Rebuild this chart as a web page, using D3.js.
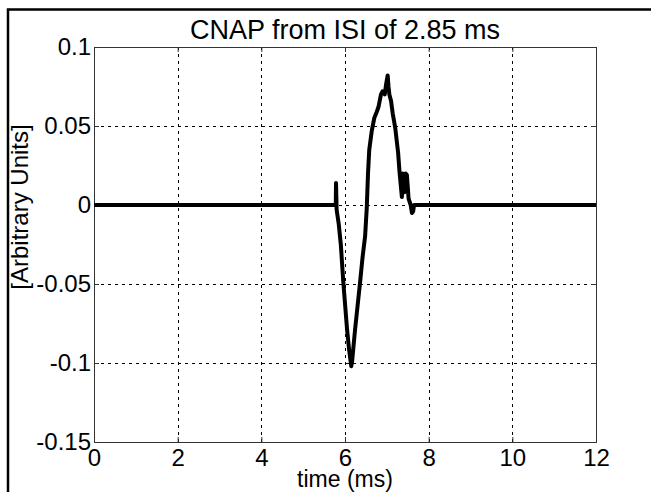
<!DOCTYPE html>
<html>
<head>
<meta charset="utf-8">
<script src="https://cdn.jsdelivr.net/npm/d3@7"></script>
<style>
  body { margin: 0; background: #fff; }
  text { font-family: "Liberation Sans", Arial, sans-serif; fill: #000; }
</style>
</head>
<body>
<svg id="chart" width="651" height="492"></svg>
<script>
// trace samples
const timeMs = [0, 5.78, 5.785, 5.8, 5.85, 5.9, 5.96, 6.05, 6.1, 6.15, 6.17, 6.24, 6.3, 6.36, 6.42, 6.48, 6.52,
  6.55, 6.58, 6.64, 6.7, 6.76, 6.8, 6.86, 6.9, 6.95, 6.98, 7.02, 7.04, 7.06, 7.1, 7.14, 7.2, 7.27, 7.3, 7.36,
  7.38, 7.42, 7.45, 7.48, 7.52, 7.57, 7.6, 7.63, 7.65, 12]
const amplitude = [0, 0, 0.014, -0.003, -0.012, -0.025, -0.049, -0.079, -0.092, -0.102, -0.099, -0.079, -0.064,
  -0.049, -0.033, -0.02, -0.002, 0.02, 0.035, 0.047, 0.055, 0.059, 0.062, 0.07, 0.072, 0.07, 0.076, 0.082,
  0.075, 0.07, 0.066, 0.058, 0.049, 0.033, 0.022, 0.005, 0.02, 0.008, 0.02, 0.019, 0.004, 0.0, -0.005, -0.004, 0, 0]

const xTicks = [0, 2, 4, 6, 8, 10, 12]
const yTicks = [0.1, 0.05, 0, -0.05, -0.1, -0.15]
const yTickLabels = ['0.1', '0.05', '0', '-0.05', '-0.1', '-0.15']

const chartTitle = 'CNAP from ISI of 2.85 ms'
const xTitle = 'time (ms)'
const yTitle = '[Arbitrary Units]'

/**
 * @Layout
 */
const plotLeft = 94, plotRight = 596, plotTop = 47, plotBottom = 442
const TICK_FONT = '24px'

const svg = d3.select('#chart')

svg.append('rect').attr('width', 651).attr('height', 492).attr('fill', '#fff')

// figure frame, only the top and left edges are in the picture
svg.append('path')
  .attr('d', 'M8,492 L8,9.5 L651,9.5')
  .attr('fill', 'none')
  .attr('stroke', '#000')
  .attr('stroke-width', 2.5)

const x = d3.scaleLinear().domain([0, 12]).range([plotLeft, plotRight])
const y = d3.scaleLinear().domain([-0.15, 0.1]).range([plotBottom, plotTop])

/**
 * @Grid
 */
const grid = svg.append('g')
grid.selectAll('.vgrid')
  .data(xTicks.slice(1, -1))
  .enter()
  .append('line')
  .attr('x1', d => Math.round(x(d)) + 0.5).attr('x2', d => Math.round(x(d)) + 0.5)
  .attr('y1', plotTop).attr('y2', plotBottom)
  .attr('stroke', '#000')
  .attr('stroke-dasharray', '3,4')

grid.selectAll('.hgrid')
  .data(yTicks.slice(1, -1))
  .enter()
  .append('line')
  .attr('y1', d => Math.round(y(d)) + 0.5).attr('y2', d => Math.round(y(d)) + 0.5)
  .attr('x1', plotLeft).attr('x2', plotRight)
  .attr('stroke', '#000')
  .attr('stroke-dasharray', '3,4')

/**
 * @Axes
 */
const axisStyle = g => {
  g.select('.domain').remove()
  g.selectAll('line').attr('stroke', '#333')
  g.selectAll('text').style('font-size', TICK_FONT).attr('fill', '#000')
}

svg.append('g')
  .attr('transform', `translate(0,${plotBottom})`)
  .call(d3.axisBottom(x).tickValues(xTicks).tickSize(-5).tickPadding(7).tickFormat(d3.format('d')))
  .call(axisStyle)

svg.append('g')
  .attr('transform', `translate(0,${plotTop})`)
  .call(d3.axisTop(x).tickValues(xTicks).tickSize(-5).tickFormat(''))
  .call(axisStyle)

svg.append('g')
  .attr('transform', `translate(${plotLeft},0)`)
  .call(d3.axisLeft(y).tickValues(yTicks).tickSize(-5).tickPadding(3)
    .tickFormat((d, i) => yTickLabels[i]))
  .call(axisStyle)

svg.append('g')
  .attr('transform', `translate(${plotRight},0)`)
  .call(d3.axisRight(y).tickValues(yTicks).tickSize(-5).tickFormat(''))
  .call(axisStyle)

// plot box
svg.append('rect')
  .attr('x', plotLeft + 0.5).attr('y', plotTop + 0.5)
  .attr('width', plotRight - plotLeft).attr('height', plotBottom - plotTop)
  .attr('fill', 'none')
  .attr('stroke', '#333')

/**
 * @Trace
 */
const line = d3.line()
  .x((d, i) => x(timeMs[i]))
  .y(d => y(d))

svg.append('path')
  .datum(amplitude)
  .attr('d', line)
  .attr('fill', 'none')
  .attr('stroke', '#000')
  .attr('stroke-width', 4)
  .attr('stroke-linejoin', 'round')

/**
 * @Labels
 */
svg.append('text')
  .attr('x', (plotLeft + plotRight) / 2).attr('y', 39)
  .attr('text-anchor', 'middle')
  .style('font-size', '27px')
  .text(chartTitle)

svg.append('text')
  .attr('x', (plotLeft + plotRight) / 2).attr('y', 487)
  .attr('text-anchor', 'middle')
  .style('font-size', '23px')
  .text(xTitle)

svg.append('text')
  .attr('transform', `translate(28,207) rotate(-90)`)
  .attr('text-anchor', 'middle')
  .style('font-size', '24px')
  .text(yTitle)
</script>
</body>
</html>
